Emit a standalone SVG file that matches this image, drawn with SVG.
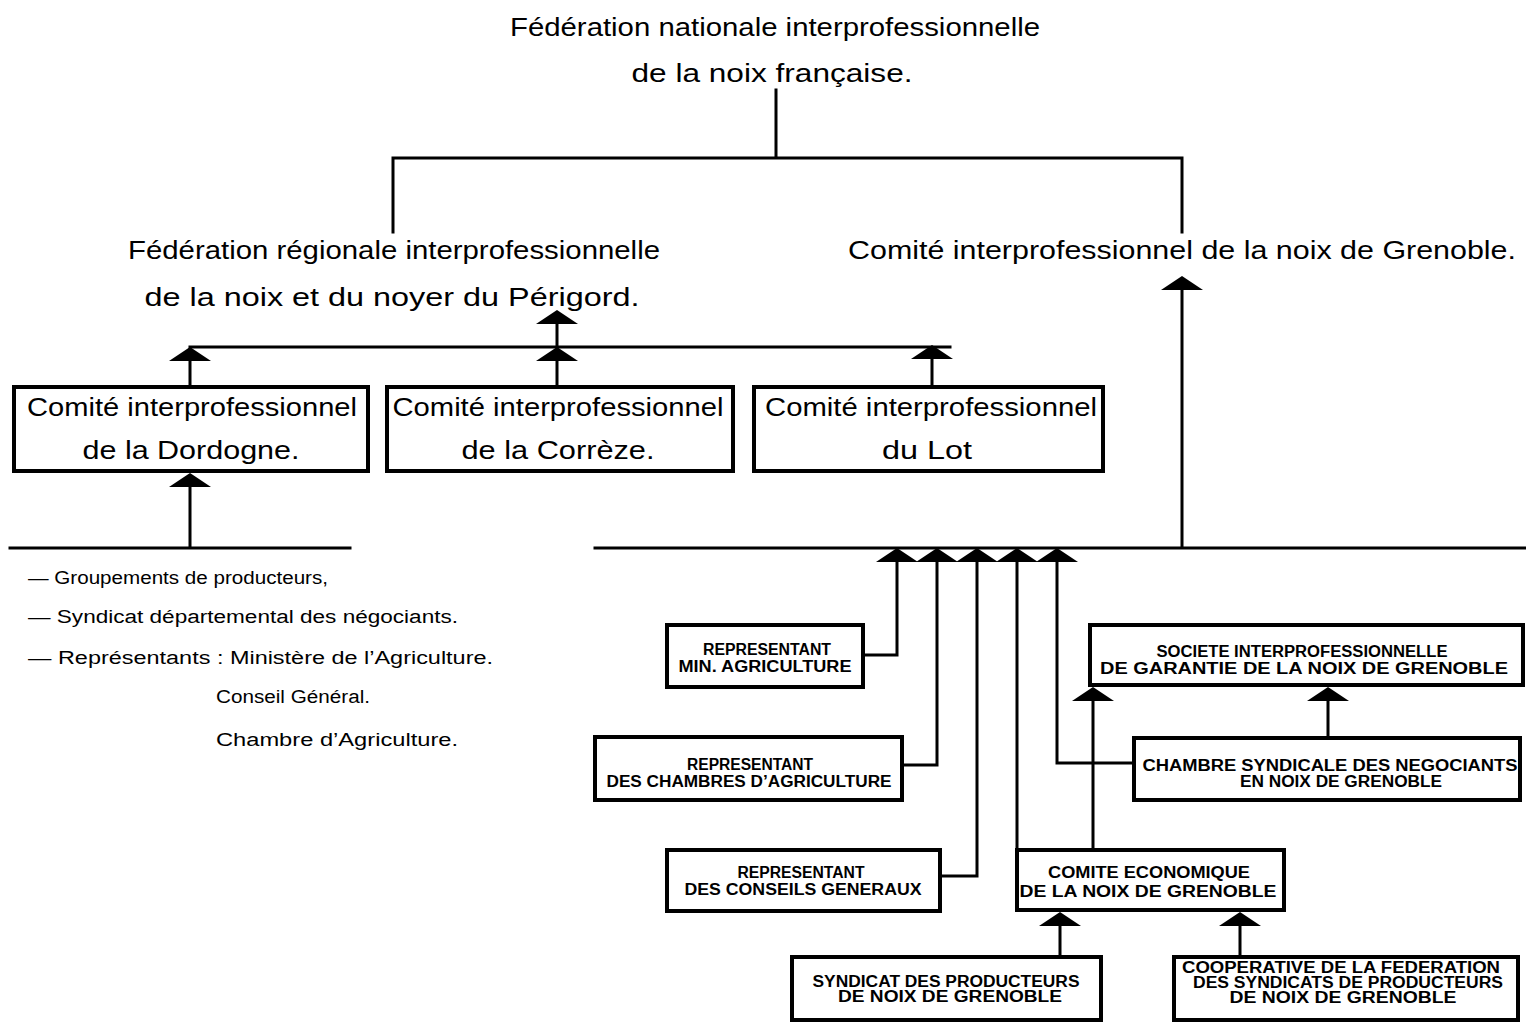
<svg xmlns="http://www.w3.org/2000/svg" xmlns:xlink="http://www.w3.org/1999/xlink" width="1526" height="1024" viewBox="0 0 1526 1024">
<style>
.bg{fill:#fff}
.ln{fill:none;stroke:#000;stroke-width:3;stroke-linecap:square}
.box{fill:#fff;stroke:#000;stroke-width:4}
.big{font-family:"Liberation Sans",Arial,sans-serif;font-size:25px;fill:#000;text-anchor:middle}
.lst{font-family:"Liberation Sans",Arial,sans-serif;font-size:18px;fill:#000}
.sm{font-family:"Liberation Sans",Arial,sans-serif;font-size:16px;font-weight:bold;fill:#000;text-anchor:middle}
</style>
<defs>
<path id="ah" d="M0,0 L21,14 L-21,14 Z" fill="#000"/>
</defs>
<rect class="bg" x="0" y="0" width="1526" height="1024"/>

<g id="connectors">
<path class="ln" d="M776,90 V158 M393,158 H1182 M393,158 V232 M1182,158 V232"/>
<path class="ln" d="M557,322 V385 M190,347 H950 M190,347 V385 M932,347 V385"/>
<path class="ln" d="M190,485 V548 M10,548 H350"/>
<path class="ln" d="M1182,288 V548 M595,548 H1526"/>
<path class="ln" d="M865,655 H897 V560 M904,765 H937 V560 M942,876 H977 V560 M1017,560 V850 M1132,763 H1057 V560"/>
<path class="ln" d="M1093,850 V698 M1328,738 V698 M1060,957 V922 M1240,957 V922"/>
<use xlink:href="#ah" x="557" y="310"/>
<use xlink:href="#ah" x="190" y="347"/>
<use xlink:href="#ah" x="557" y="347"/>
<use xlink:href="#ah" x="932" y="345"/>
<use xlink:href="#ah" x="190" y="473"/>
<use xlink:href="#ah" x="1182" y="276"/>
<use xlink:href="#ah" x="897" y="548"/>
<use xlink:href="#ah" x="937" y="548"/>
<use xlink:href="#ah" x="977" y="548"/>
<use xlink:href="#ah" x="1017" y="548"/>
<use xlink:href="#ah" x="1057" y="548"/>
<use xlink:href="#ah" x="1093" y="687"/>
<use xlink:href="#ah" x="1328" y="687"/>
<use xlink:href="#ah" x="1060" y="912"/>
<use xlink:href="#ah" x="1240" y="912"/>
</g>

<g id="fed-nationale">
<text class="big" x="775" y="36" textLength="530" lengthAdjust="spacingAndGlyphs">Fédération nationale interprofessionnelle</text>
<text class="big" x="772" y="82" textLength="281" lengthAdjust="spacingAndGlyphs">de la noix française.</text>
</g>

<g id="fed-regionale">
<text class="big" x="394" y="259" textLength="532" lengthAdjust="spacingAndGlyphs">Fédération régionale interprofessionnelle</text>
<text class="big" x="392" y="306" textLength="495" lengthAdjust="spacingAndGlyphs">de la noix et du noyer du Périgord.</text>
</g>

<g id="comite-grenoble">
<text class="big" x="1182" y="259" textLength="668" lengthAdjust="spacingAndGlyphs">Comité interprofessionnel de la noix de Grenoble.</text>
</g>

<g id="dordogne">
<rect class="box" x="14" y="387" width="354" height="84"/>
<text class="big" x="192" y="416" textLength="330" lengthAdjust="spacingAndGlyphs">Comité interprofessionnel</text>
<text class="big" x="191" y="459" textLength="217" lengthAdjust="spacingAndGlyphs">de la Dordogne.</text>
</g>

<g id="correze">
<rect class="box" x="387" y="387" width="346" height="84"/>
<text class="big" x="558" y="416" textLength="331" lengthAdjust="spacingAndGlyphs">Comité interprofessionnel</text>
<text class="big" x="558" y="459" textLength="193" lengthAdjust="spacingAndGlyphs">de la Corrèze.</text>
</g>

<g id="lot">
<rect class="box" x="754" y="387" width="349" height="84"/>
<text class="big" x="931" y="416" textLength="332" lengthAdjust="spacingAndGlyphs">Comité interprofessionnel</text>
<text class="big" x="927" y="459" textLength="90" lengthAdjust="spacingAndGlyphs">du Lot</text>
</g>

<g id="dordogne-members">
<text class="lst" x="28" y="584" textLength="300" lengthAdjust="spacingAndGlyphs">— Groupements de producteurs,</text>
<text class="lst" x="28" y="623" textLength="430" lengthAdjust="spacingAndGlyphs">— Syndicat départemental des négociants.</text>
<text class="lst" x="28" y="664" textLength="465" lengthAdjust="spacingAndGlyphs">— Représentants : Ministère de l’Agriculture.</text>
<text class="lst" x="216" y="703" textLength="154" lengthAdjust="spacingAndGlyphs">Conseil Général.</text>
<text class="lst" x="216" y="746" textLength="242" lengthAdjust="spacingAndGlyphs">Chambre d’Agriculture.</text>
</g>

<g id="rep-min-agri">
<rect class="box" x="667" y="625" width="196" height="62"/>
<text class="sm" x="767" y="655" textLength="128" lengthAdjust="spacingAndGlyphs">REPRESENTANT</text>
<text class="sm" x="765" y="672" textLength="173" lengthAdjust="spacingAndGlyphs">MIN. AGRICULTURE</text>
</g>

<g id="rep-chambres">
<rect class="box" x="595" y="737" width="307" height="63"/>
<text class="sm" x="750" y="770" textLength="126" lengthAdjust="spacingAndGlyphs">REPRESENTANT</text>
<text class="sm" x="749" y="787" textLength="285" lengthAdjust="spacingAndGlyphs">DES CHAMBRES D’AGRICULTURE</text>
</g>

<g id="rep-conseils">
<rect class="box" x="667" y="850" width="273" height="61"/>
<text class="sm" x="801" y="878" textLength="127" lengthAdjust="spacingAndGlyphs">REPRESENTANT</text>
<text class="sm" x="803" y="895" textLength="237" lengthAdjust="spacingAndGlyphs">DES CONSEILS GENERAUX</text>
</g>

<g id="syndicat-producteurs">
<rect class="box" x="792" y="957" width="309" height="63"/>
<text class="sm" x="946" y="987" textLength="267" lengthAdjust="spacingAndGlyphs">SYNDICAT DES PRODUCTEURS</text>
<text class="sm" x="950" y="1002" textLength="224" lengthAdjust="spacingAndGlyphs">DE NOIX DE GRENOBLE</text>
</g>

<g id="comite-economique">
<rect class="box" x="1017" y="850" width="267" height="60"/>
<text class="sm" x="1149" y="878" textLength="202" lengthAdjust="spacingAndGlyphs">COMITE ECONOMIQUE</text>
<text class="sm" x="1148" y="897" textLength="257" lengthAdjust="spacingAndGlyphs">DE LA NOIX DE GRENOBLE</text>
</g>

<g id="cooperative">
<rect class="box" x="1174" y="957" width="344" height="63"/>
<text class="sm" x="1341" y="973" textLength="318" lengthAdjust="spacingAndGlyphs">COOPERATIVE DE LA FEDERATION</text>
<text class="sm" x="1348" y="988" textLength="310" lengthAdjust="spacingAndGlyphs">DES SYNDICATS DE PRODUCTEURS</text>
<text class="sm" x="1343" y="1003" textLength="227" lengthAdjust="spacingAndGlyphs">DE NOIX DE GRENOBLE</text>
</g>

<g id="societe-garantie">
<rect class="box" x="1090" y="625" width="433" height="60"/>
<text class="sm" x="1302" y="657" textLength="291" lengthAdjust="spacingAndGlyphs">SOCIETE INTERPROFESSIONNELLE</text>
<text class="sm" x="1304" y="674" textLength="408" lengthAdjust="spacingAndGlyphs">DE GARANTIE DE LA NOIX DE GRENOBLE</text>
</g>

<g id="chambre-syndicale">
<rect class="box" x="1134" y="738" width="386" height="62"/>
<text class="sm" x="1330" y="771" textLength="375" lengthAdjust="spacingAndGlyphs">CHAMBRE SYNDICALE DES NEGOCIANTS</text>
<text class="sm" x="1341" y="787" textLength="202" lengthAdjust="spacingAndGlyphs">EN NOIX DE GRENOBLE</text>
</g>
</svg>
